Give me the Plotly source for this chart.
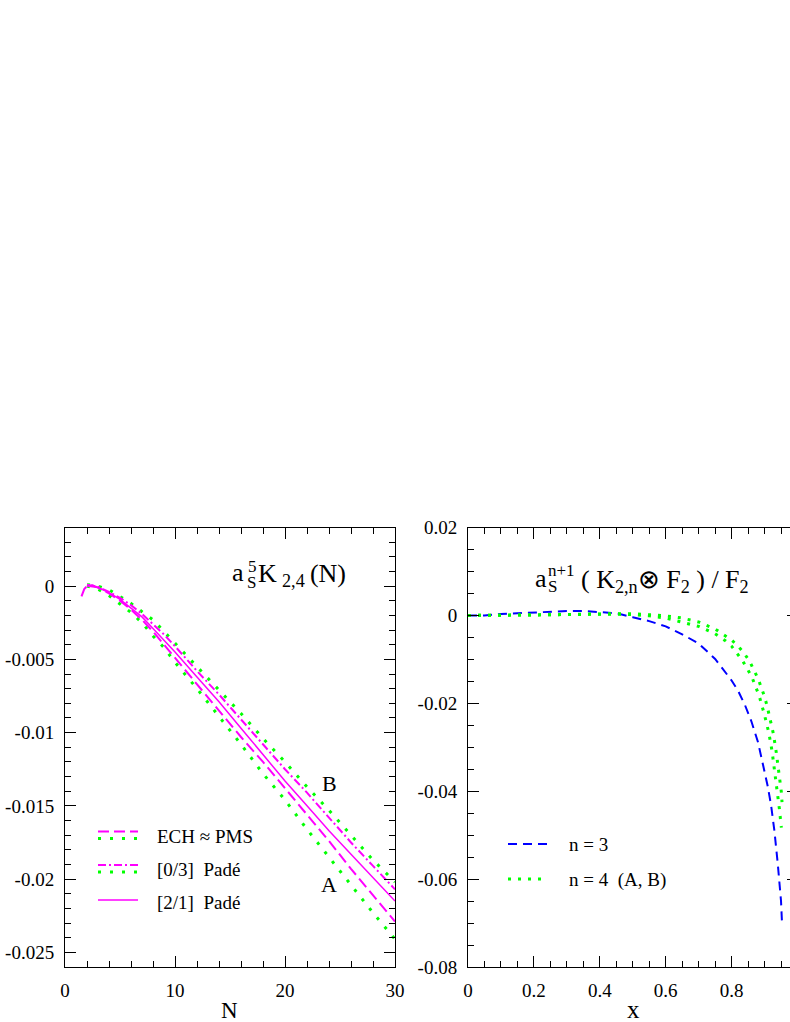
import plotly.graph_objects as go

# ---- left panel: a_s^5 K_{2,4}(N) ----
N = [2, 3, 4, 5, 6, 7, 8, 9, 10, 12, 14, 16, 18, 20, 22, 24, 26, 28, 30]
green_B = [0.0001, 0.0, -0.00025, -0.0007, -0.00118, -0.00175, -0.0023, -0.0031, -0.0039, -0.0055,
           -0.0071, -0.0087, -0.0104, -0.0120, -0.0137, -0.0153, -0.0170, -0.0187, -0.0202]
green_A = [0.0, -0.0002, -0.00065, -0.0012, -0.0018, -0.0025, -0.0034, -0.0042, -0.0052, -0.0070,
           -0.0089, -0.0108, -0.0128, -0.0146, -0.0166, -0.0185, -0.0204, -0.0223, -0.0241]
pade21 = [0.0, -0.0001, -0.00045, -0.0009, -0.0015, -0.0021, -0.0029, -0.0037, -0.0045, -0.0062,
          -0.0079, -0.0097, -0.0115, -0.0133, -0.0150, -0.0167, -0.0183, -0.0199, -0.0215]
pade03 = [0.0001, -0.00005, -0.0004, -0.0008, -0.0013, -0.0019, -0.0026, -0.0033, -0.0041, -0.0058,
          -0.0074, -0.0091, -0.0108, -0.0125, -0.0141, -0.0158, -0.0175, -0.0191, -0.0207]
N_ech = [1.5, 1.75, 2, 2.5, 3, 4, 5, 6, 7, 8, 9, 10, 12, 14, 16, 18, 20, 22, 24, 26, 28, 30]
ech = [-0.0007, -0.0002, 0.0, 0.00005, -0.0001, -0.0005, -0.0010, -0.0016, -0.0023, -0.0031, -0.0040,
       -0.0049, -0.0067, -0.0085, -0.0103, -0.0120, -0.0138, -0.0156, -0.0174, -0.0193, -0.0211, -0.0229]

# ---- right panel: a_s^{n+1} (K_{2,n} x F2)/F2 ----
x_n3 = [0, 0.05, 0.1, 0.15, 0.2, 0.25, 0.3, 0.35, 0.4, 0.45, 0.5, 0.55, 0.6, 0.65, 0.7, 0.75,
        0.8, 0.82, 0.84, 0.86, 0.88, 0.9, 0.91, 0.92, 0.93, 0.94, 0.95, 0.953]
n3 = [0, 0.0, 0.0003, 0.00045, 0.0007, 0.0009, 0.001, 0.001, 0.0008, 0.0005, -0.0004, -0.0013,
      -0.0025, -0.0043, -0.0064, -0.0099, -0.0148, -0.0172, -0.0203, -0.0241, -0.0288, -0.0352,
      -0.039, -0.0433, -0.0491, -0.0564, -0.065, -0.070]
x_n4A = [0, 0.05, 0.1, 0.2, 0.3, 0.4, 0.45, 0.5, 0.55, 0.6, 0.65, 0.7, 0.75, 0.78, 0.8, 0.815,
         0.833, 0.848, 0.862, 0.872, 0.883, 0.899, 0.913, 0.923, 0.931, 0.939, 0.945, 0.951]
n4A = [0, 0, 0.0, 0.0001, 0.0002, 0.0003, 0.0003, 0.0002, -0.0001, -0.0006, -0.0015, -0.0025,
       -0.0042, -0.0057, -0.0070, -0.0084, -0.0103, -0.0122, -0.0141, -0.0161, -0.0181, -0.0224,
       -0.0267, -0.0310, -0.0353, -0.0397, -0.0440, -0.0483]
x_n4B = [0, 0.05, 0.1, 0.2, 0.3, 0.4, 0.45, 0.5, 0.55, 0.6, 0.65, 0.7, 0.75, 0.78, 0.8, 0.821,
         0.838, 0.855, 0.869, 0.881, 0.891, 0.9, 0.908, 0.915, 0.927, 0.936, 0.944, 0.951, 0.953]
n4B = [0, 0, 0.0, 0.0001, 0.0002, 0.0004, 0.0004, 0.0004, 0.0002, -0.0001, -0.0006, -0.0015,
       -0.0031, -0.0045, -0.0056, -0.0071, -0.0086, -0.0105, -0.0126, -0.0145, -0.0166, -0.0185,
       -0.0207, -0.0229, -0.0270, -0.0314, -0.0359, -0.0402, -0.0425]

# tick labels
left_xticks = [0, 10, 20, 30]
left_yticks = [0, -0.005, -0.01, -0.015, -0.02, -0.025]
left_ylabels = ['0', '-0.005', '-0.01', '-0.015', '-0.02', '-0.025']
right_xticks = [0, 0.2, 0.4, 0.6, 0.8, 1.0]
right_xlabels = ['0', '0.2', '0.4', '0.6', '0.8', '1']
right_yticks = [0.02, 0, -0.02, -0.04, -0.06, -0.08]
right_ylabels = ['0.02', '0', '-0.02', '-0.04', '-0.06', '-0.08']

W, H = 800, 1022
FONT = "Liberation Serif, Times New Roman, serif"
MAG, GRN, BLU = '#ff00ff', '#00ff00', '#0000ff'
DOT_L = '3px,9px'
DOT_R = '3px,7px'


def px(x):
    return x / W


def py(y):
    return 1 - y / H


fig = go.Figure()

# left panel curves
fig.add_trace(go.Scatter(x=N, y=green_B, mode='lines', line=dict(color=GRN, width=3, dash=DOT_L),
                         xaxis='x', yaxis='y', showlegend=False))
fig.add_trace(go.Scatter(x=N, y=green_A, mode='lines', line=dict(color=GRN, width=3, dash=DOT_L),
                         xaxis='x', yaxis='y', showlegend=False))
fig.add_trace(go.Scatter(x=N, y=pade03, mode='lines', line=dict(color=MAG, width=2, dash='8px,3px,2px,3px'),
                         xaxis='x', yaxis='y', showlegend=False))
fig.add_trace(go.Scatter(x=N, y=pade21, mode='lines', line=dict(color=MAG, width=1.5),
                         xaxis='x', yaxis='y', showlegend=False))
fig.add_trace(go.Scatter(x=N_ech, y=ech, mode='lines', line=dict(color=MAG, width=2, dash='11px,5px'),
                         xaxis='x', yaxis='y', showlegend=False))

# right panel curves
fig.add_trace(go.Scatter(x=x_n3, y=n3, mode='lines', line=dict(color=BLU, width=2, dash='9px,6px'),
                         xaxis='x2', yaxis='y2', showlegend=False))
fig.add_trace(go.Scatter(x=x_n4A, y=n4A, mode='lines', line=dict(color=GRN, width=3, dash=DOT_R),
                         xaxis='x2', yaxis='y2', showlegend=False))
fig.add_trace(go.Scatter(x=x_n4B, y=n4B, mode='lines', line=dict(color=GRN, width=3, dash=DOT_R),
                         xaxis='x2', yaxis='y2', showlegend=False))


def axis(domain, rng, vals, labels, minor_dtick, anchor):
    return dict(domain=domain, range=rng, anchor=anchor,
                showline=True, linecolor='black', linewidth=1, mirror='ticks',
                ticks='inside', ticklen=11, tickwidth=1, tickcolor='black',
                tickvals=vals, ticktext=labels, ticklabelstandoff=6,
                minor=dict(ticks='inside', ticklen=6, tickwidth=1, tickcolor='black',
                           tick0=0, dtick=minor_dtick),
                showgrid=False, zeroline=False, automargin=False,
                tickfont=dict(family=FONT, size=19, color='black'))


ydom = [py(967), py(527.5)]
fig.update_layout(
    width=W, height=H,
    margin=dict(l=0, r=0, t=0, b=0),
    paper_bgcolor='white', plot_bgcolor='white',
    font=dict(family=FONT, color='black'),
    xaxis=axis([px(65), px(395)], [0, 30], left_xticks, [str(v) for v in left_xticks], 2, 'y'),
    yaxis=axis(ydom, [-0.026, 0.004], left_yticks, left_ylabels, 0.001, 'x'),
    xaxis2=axis([px(468), px(797.5)], [0, 1], right_xticks, right_xlabels, 0.05, 'y2'),
    yaxis2=axis(ydom, [-0.08, 0.02], right_yticks, right_ylabels, 0.005, 'x2'),
)

ann = []


def text(x, y, s, size, xanchor='left', yanchor='middle'):
    ann.append(dict(x=px(x), y=py(y), xref='paper', yref='paper', text=s, showarrow=False,
                    xanchor=xanchor, yanchor=yanchor,
                    font=dict(family=FONT, size=size, color='black')))


# panel titles (stacked super/subscripts built from pieces)
text(230, 572, 'a', 26)
text(245, 582, 'S', 17)
text(246, 566, '5', 17)
text(256, 575, 'K\u2009<sub>2,4</sub>\u2009(N)', 26)
text(533, 578, 'a', 26)
text(546, 586, 'S', 17)
text(546, 570, 'n+1', 17)
text(579, 581, '( K<sub>2,n</sub>⊗ F<sub>2</sub> ) / F<sub>2</sub>', 26)

# curve labels
text(329, 783, 'B', 22, 'center')
text(329, 884, 'A', 22, 'center')

# axis titles
text(230, 1010, 'N', 23, 'center')
text(633, 1009, 'x', 25, 'center')

# left legend
text(155, 836, 'ECH ≈ PMS', 19)
text(155, 869, '[0/3]  Padé', 19)
text(155, 902, '[2/1]  Padé', 19)
# right legend
text(567, 844, 'n = 3', 19)
text(567, 880, 'n = 4  (A, B)', 19)
fig.update_layout(annotations=ann)

shapes = []


def sample(x0, x1, y, color, width, dash):
    shapes.append(dict(type='line', xref='paper', yref='paper', x0=px(x0), x1=px(x1),
                       y0=py(y), y1=py(y), line=dict(color=color, width=width, dash=dash)))


sample(98, 138, 831.5, MAG, 2, '11px,5px')
sample(98, 138, 838.5, GRN, 3, DOT_L)
sample(98, 138, 865, MAG, 2, '8px,3px,2px,3px')
sample(98, 138, 872, GRN, 3, DOT_L)
sample(98, 138, 900, MAG, 1.5, 'solid')
sample(508, 548, 844, BLU, 2, '9px,6px')
sample(508, 548, 879, GRN, 3, DOT_R)
fig.update_layout(shapes=shapes)

fig.write_html("out.html", config={'displayModeBar': False},
               post_script="document.body.style.margin='0';"
                           "document.body.style.overflow='hidden';"
                           "document.documentElement.style.overflow='hidden';")
